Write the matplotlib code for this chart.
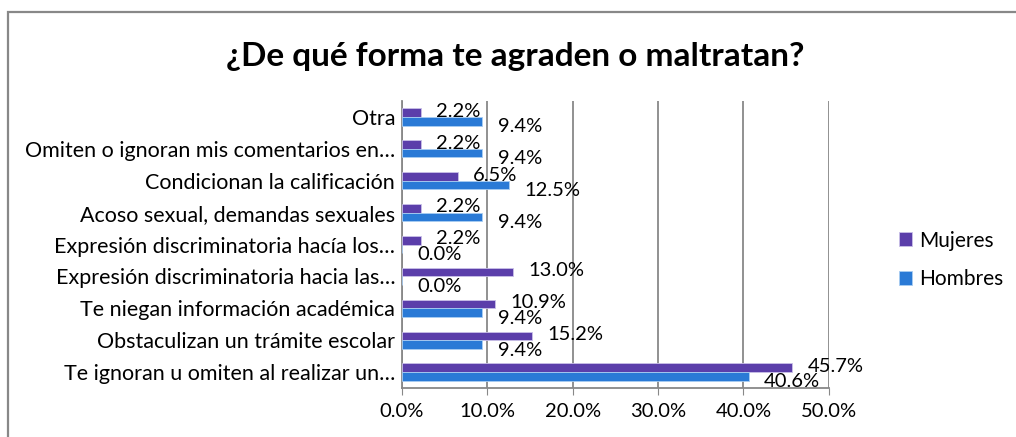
import numpy as np
import matplotlib.pyplot as plt
from matplotlib.patches import Rectangle
from matplotlib.ticker import FuncFormatter

plt.rcParams['font.family'] = ['Lato', 'DejaVu Sans']

# Categories from bottom to top, as drawn
categorias = [
    "Te ignoran u omiten al realizar un…",
    "Obstaculizan un trámite escolar",
    "Te niegan información académica",
    "Expresión discriminatoria hacia las…",
    "Expresión discriminatoria hacía los…",
    "Acoso sexual, demandas sexuales",
    "Condicionan la calificación",
    "Omiten o ignoran mis comentarios en…",
    "Otra",
]
mujeres = [45.7, 15.2, 10.9, 13.0, 2.2, 2.2, 6.5, 2.2, 2.2]
hombres = [40.6, 9.4, 9.4, 0.0, 0.0, 9.4, 12.5, 9.4, 9.4]

col_muj = '#5B3EAA'
col_hom = '#2A7AD6'

fig = plt.figure(figsize=(10.16, 4.37), dpi=100)
ax = fig.add_axes([0.3957, 0.112, 0.42, 0.657])

y = np.arange(len(categorias))
h = 0.27
ax.barh(y + h / 2, mujeres, height=h, color=col_muj, edgecolor='#C9C0E8', linewidth=0.6,
        label='Mujeres', zorder=3)
ax.barh(y - h / 2, hombres, height=h, color=col_hom, edgecolor='#A9CDF2', linewidth=0.6,
        label='Hombres', zorder=3)

for yi, v in zip(y, mujeres):
    ax.annotate(f"{v:.1f}%", (v, yi + h / 2), xytext=(11, 1), textcoords='offset points',
                ha='left', va='center', fontsize=14.5, zorder=4)
for yi, v in zip(y, hombres):
    ax.annotate(f"{v:.1f}%", (v, yi - h / 2), xytext=(11, -4), textcoords='offset points',
                ha='left', va='center', fontsize=14.5, zorder=4)

ax.set_xlim(0, 50)
ax.set_ylim(-0.5, len(categorias) - 0.5)
ax.set_xticks(np.arange(0, 51, 10))
ax.xaxis.set_major_formatter(FuncFormatter(lambda v, p: f"{v:.1f}%"))
ax.set_yticks(y)
ax.set_yticklabels(categorias, fontsize=15.5)
ax.tick_params(axis='x', labelsize=14.5, length=5, color='#888888', pad=6)
ax.tick_params(axis='y', length=0, pad=5)
ax.grid(axis='x', color='#888888', linewidth=1.3, zorder=0)
for s in ['top', 'right']:
    ax.spines[s].set_visible(False)
for s in ['left', 'bottom']:
    ax.spines[s].set_color('#888888')
    ax.spines[s].set_linewidth(1.3)

ax.legend(loc='center left', bbox_to_anchor=(1.12, 0.446), frameon=False, fontsize=15,
          handlelength=0.65, handleheight=0.65, handletextpad=0.35, labelspacing=0.9)

fig.text(0.507, 0.87, "¿De qué forma te agraden o maltratan?", ha='center', va='center',
         fontsize=24, fontweight='bold')

fig.patches.append(Rectangle((0.008, -0.1), 1.1, 1.072, transform=fig.transFigure,
                             fill=False, edgecolor='#888888', linewidth=1.6))

fig.savefig('out.png', dpi=100)
